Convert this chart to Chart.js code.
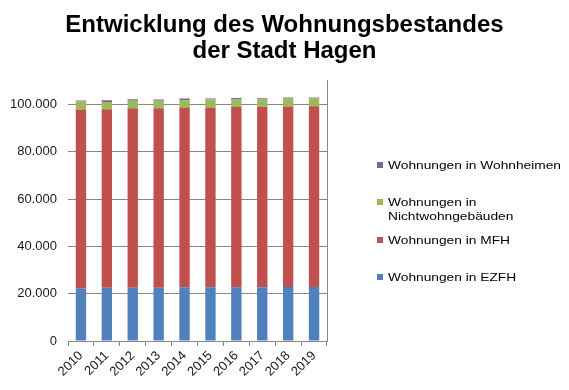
<!DOCTYPE html>
<html lang="de">
<head>
<meta charset="utf-8">
<title>Wohnungsbestand Hagen</title>
<script src="https://cdn.jsdelivr.net/npm/chart.js@4/dist/chart.umd.min.js"></script>
<style>
  html, body { margin: 0; padding: 0; background: #fff; }
  #wrap { position: relative; width: 569px; height: 390px; }
  #legend { position: absolute; left: 0; top: 0; font-family: 'Liberation Sans', Arial, sans-serif; font-size: 11px; color: #000; }
  .item { position: absolute; left: 377px; display: flex; align-items: flex-start; line-height: 14px; }
  .box { width: 6px; height: 6px; margin-top: 4px; margin-right: 5px; flex: none; }
  .txt { width: 140px; transform: scaleX(1.25); transform-origin: left top; }
</style>
</head>
<body>
<div id="wrap">
  <canvas id="chart"></canvas>
  <div id="legend"></div>
</div>
<script>
// --- DATOS ---
const years = ['2010', '2011', '2012', '2013', '2014', '2015', '2016', '2017', '2018', '2019'];
const ezfh = [22100, 22500, 22500, 22500, 22700, 22700, 22700, 22700, 22800, 22800];
const mfh = [75800, 75500, 75900, 75900, 76000, 76000, 76200, 76300, 76400, 76500];
const nichtwohn = [3400, 3100, 3200, 3200, 3100, 3400, 3200, 3100, 3300, 3200];
const wohnheime = [400, 700, 600, 500, 700, 400, 600, 500, 500, 500];

const seriesNames = ['Wohnungen in EZFH', 'Wohnungen in MFH', 'Wohnungen in Nichtwohngebäuden', 'Wohnungen in Wohnheimen'];
const seriesColors = ['#4F81BD', '#C0504D', '#9BBB59', '#8064A2'];
const yTicks = [0, 20000, 40000, 60000, 80000, 100000];
const yMax = 110000;

// Layout-Werte (Pixel), nicht Daten
const legendTops = [270, 233, 195, 158];
const gridColor = '#888888';

// 100000 -> "100.000"
function formatDe(v) {
    return String(v).replace(/\B(?=(\d{3})+(?!\d))/g, '.');
}

Chart.defaults.font.family = "'Liberation Sans', Arial, sans-serif";
Chart.defaults.color = '#1a1a1a';

const allSeries = [ezfh, mfh, nichtwohn, wohnheime];
const datasets = allSeries.map((values, i) => ({
    label: seriesNames[i],
    data: values,
    backgroundColor: seriesColors[i],
    borderWidth: 0,
    barPercentage: 0.4,
    categoryPercentage: 1
}));

const ctx = document.getElementById('chart').getContext('2d');
new Chart(ctx, {
    type: 'bar',
    data: { labels: years, datasets: datasets },
    options: {
        responsive: true,
        maintainAspectRatio: false,
        animation: false,
        layout: { padding: 0 },
        plugins: {
            legend: { display: false },
            tooltip: { enabled: false },
            title: {
                display: true,
                text: ['Entwicklung des Wohnungsbestandes', 'der Stadt Hagen'],
                color: '#000',
                font: { size: 24, weight: 'bold', lineHeight: 1.08 },
                padding: { top: 12, bottom: 17 }
            }
        },
        scales: {
            x: {
                stacked: true,
                grid: { display: true, drawOnChartArea: false, offset: true, tickLength: 5, color: gridColor },
                border: { display: true, color: gridColor },
                ticks: { font: { size: 13 }, minRotation: 45, maxRotation: 45, padding: 2, autoSkip: false },
                afterFit: scale => { scale.height = 49; }
            },
            y: {
                stacked: true,
                min: 0,
                max: yMax,
                grid: { color: gridColor, tickLength: 0 },
                border: { display: false },
                ticks: { font: { size: 13 }, padding: 11, callback: v => formatDe(v) },
                afterBuildTicks: scale => { scale.ticks = yTicks.map(v => ({ value: v })); },
                afterFit: scale => { scale.width = 68; }
            },
            // rechte Begrenzungslinie; die Breite lässt Platz für die Legende
            y2: {
                position: 'right',
                grid: { display: false },
                border: { display: true, color: gridColor },
                ticks: { display: false },
                afterFit: scale => { scale.width = 242; }
            }
        }
    }
});

// --- LEGENDE (HTML) ---
const legendEl = document.getElementById('legend');
for (let i = seriesNames.length - 1; i >= 0; i--) {
    const row = document.createElement('div');
    row.className = 'item';
    row.style.top = legendTops[i] + 'px';
    row.innerHTML = `<span class="box" style="background:${seriesColors[i]}"></span><span class="txt">${seriesNames[i]}</span>`;
    legendEl.appendChild(row);
}
</script>
</body>
</html>
